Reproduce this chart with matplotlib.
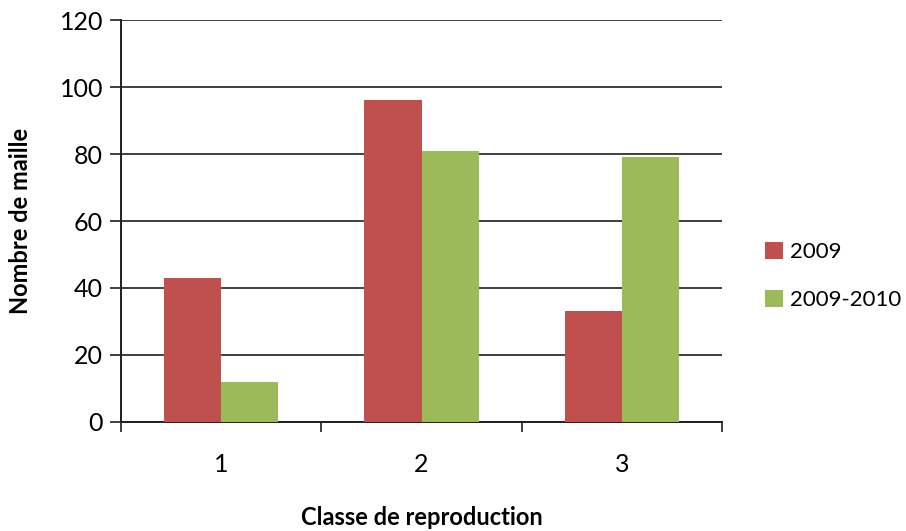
import matplotlib.pyplot as plt
import numpy as np

plt.rcParams['font.family'] = ['Lato', 'DejaVu Sans']

categories = ['1', '2', '3']
series_names = ['2009', '2009-2010']
values_2009 = [43, 96, 33]
values_2009_2010 = [12, 81, 79]
y_ticks = [0, 20, 40, 60, 80, 100, 120]

red = '#C0504D'
green = '#9BBB59'
axis_color = '#231F1A'

fig = plt.figure(figsize=(9.06, 5.31), dpi=100)
ax = fig.add_axes([0.1336, 0.2053, 0.6634, 0.757])

x = np.arange(1, len(categories) + 1)
width = 0.285
ax.bar(x - width, values_2009, width, align='edge', color=red, label=series_names[0], zorder=3)
ax.bar(x, values_2009_2010, width, align='edge', color=green, label=series_names[1], zorder=3)

ax.set_xlim(0.5, 3.5)
ax.set_ylim(0, 120)
ax.set_yticks(y_ticks)
ax.yaxis.grid(True, color=axis_color, linewidth=1.2, zorder=0)
ax.tick_params(axis='y', length=8, width=1.2, color=axis_color, labelsize=18, pad=5)

# category labels centred, ticks at the boundaries
ax.set_xticks(x)
ax.set_xticklabels(categories)
ax.tick_params(axis='x', length=0, labelsize=18, pad=22)
ax.set_xticks([0.5, 1.5, 2.5, 3.5], minor=True)
ax.tick_params(axis='x', which='minor', length=7, width=1.2, color=axis_color)

for side in ['top', 'right']:
    ax.spines[side].set_visible(False)
for side in ['left', 'bottom']:
    ax.spines[side].set_color(axis_color)
    ax.spines[side].set_linewidth(1.4)

ax.set_xlabel('Classe de reproduction', fontsize=17, fontweight='bold', labelpad=22)
ax.set_ylabel('Nombre de maille', fontsize=17, fontweight='bold', labelpad=20)

ax.legend(loc='center left', bbox_to_anchor=(1.072, 0.363), frameon=False, fontsize=16,
          borderaxespad=0, borderpad=0,
          handlelength=0.8, handleheight=0.8, handletextpad=0.3, labelspacing=1.25)

fig.savefig('out.png', dpi=100)
